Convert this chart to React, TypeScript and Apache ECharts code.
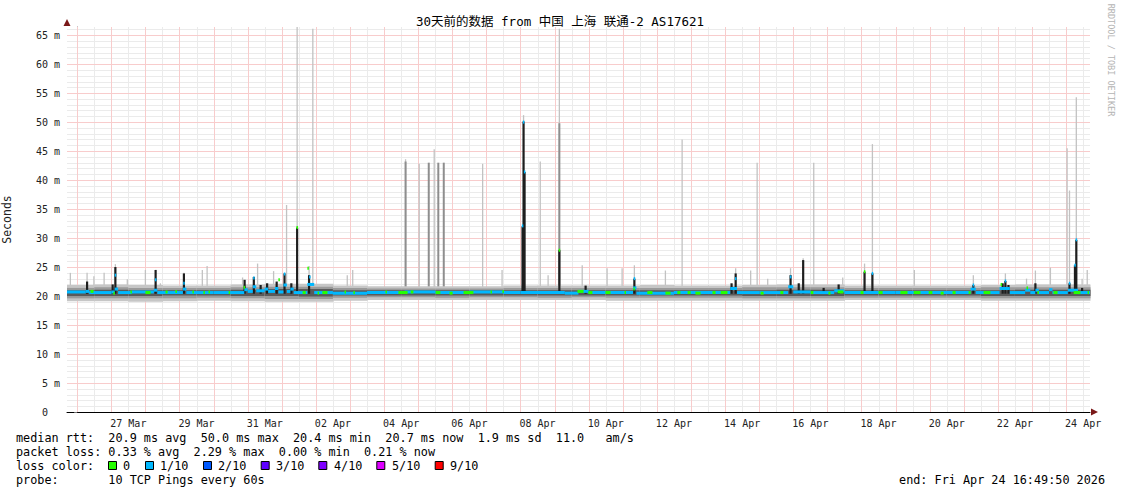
import React, { useEffect, useRef } from 'react';
import * as echarts from 'echarts';

// x unit: days since 26 Mar 00:00 ; window = 25 Mar 16:49:50 .. 24 Apr 16:49:50
const START_DAY = -0.2987;
const END_DAY = 29.7013;
const Y_MAX = 66.4;

const TITLE = '30天前的数据 from 中国 上海 联通-2 AS17621';
const DAY_LABEL_POS = [1.5, 3.5, 5.5, 7.5, 9.5, 11.5, 13.5, 15.5, 17.5, 19.5, 21.5, 23.5, 25.5, 27.5, 29.5];
const DAY_LABELS = ['27 Mar', '29 Mar', '31 Mar', '02 Apr', '04 Apr', '06 Apr', '08 Apr', '10 Apr', '12 Apr', '14 Apr', '16 Apr', '18 Apr', '20 Apr', '22 Apr', '24 Apr'];
const Y_LABEL_VALUES = [0, 5, 10, 15, 20, 25, 30, 35, 40, 45, 50, 55, 60, 65];

const LOSS_COLORS = ['#26ff00', '#00b8ff', '#0059ff', '#5e00ff', '#7e00ff', '#dd00ff', '#ff0000'];
const LOSS_LABELS = ['0', '1/10', '2/10', '3/10', '4/10', '5/10', '9/10'];

const STAT_LINES = [
  'median rtt:  20.9 ms avg  50.0 ms max  20.4 ms min  20.7 ms now  1.9 ms sd  11.0   am/s',
  'packet loss: 0.33 % avg  2.29 % max  0.00 % min  0.21 % now',
  'loss color:',
  'probe:       10 TCP Pings every 60s',
];
const END_TEXT = 'end: Fri Apr 24 16:49:50 2026';

// smoke band: [day, lightLo, midLo, darkLo, darkHi, midHi, lightHi]
const BAND = [
  [-0.2987, 19.1, 19.6, 20.0, 21.0, 21.4, 21.9],
  [0.5, 19.1, 19.6, 20.0, 21.1, 21.5, 22.0],
  [1.5, 19.0, 19.6, 20.0, 21.0, 21.4, 21.9],
  [2.5, 19.1, 19.6, 20.1, 21.0, 21.4, 21.8],
  [3.5, 19.2, 19.7, 20.1, 21.0, 21.4, 21.8],
  [4.5, 19.1, 19.6, 20.0, 21.1, 21.5, 22.0],
  [5.5, 19.0, 19.5, 20.0, 21.2, 21.6, 22.1],
  [6.5, 19.0, 19.5, 19.9, 21.2, 21.6, 22.1],
  [7.5, 19.2, 19.7, 20.1, 21.0, 21.4, 21.8],
  [8.5, 19.3, 19.8, 20.1, 21.0, 21.3, 21.7],
  [9.5, 19.3, 19.8, 20.1, 21.0, 21.3, 21.7],
  [10.5, 19.3, 19.7, 20.1, 21.0, 21.3, 21.7],
  [11.5, 19.3, 19.8, 20.1, 21.0, 21.3, 21.7],
  [12.5, 19.3, 19.8, 20.1, 21.0, 21.4, 21.8],
  [13.5, 19.3, 19.7, 20.1, 21.0, 21.4, 21.8],
  [14.5, 19.3, 19.8, 20.1, 21.0, 21.4, 21.8],
  [15.5, 19.2, 19.7, 20.1, 21.0, 21.4, 21.8],
  [16.5, 19.2, 19.7, 20.1, 21.0, 21.4, 21.9],
  [17.5, 19.2, 19.7, 20.1, 21.0, 21.4, 21.8],
  [18.5, 19.2, 19.7, 20.1, 21.0, 21.4, 21.8],
  [19.5, 19.2, 19.6, 20.0, 21.0, 21.5, 21.9],
  [20.5, 19.2, 19.6, 20.0, 21.1, 21.5, 22.0],
  [21.5, 19.2, 19.6, 20.0, 21.1, 21.5, 22.0],
  [22.5, 19.3, 19.7, 20.1, 21.0, 21.4, 21.8],
  [23.5, 19.3, 19.7, 20.1, 21.0, 21.4, 21.8],
  [24.5, 19.3, 19.7, 20.1, 21.0, 21.4, 21.8],
  [25.5, 19.3, 19.7, 20.1, 21.0, 21.4, 21.8],
  [26.5, 19.2, 19.6, 20.0, 21.0, 21.5, 21.9],
  [27.5, 19.2, 19.6, 20.0, 21.1, 21.5, 22.0],
  [28.5, 19.2, 19.6, 20.0, 21.1, 21.5, 22.0],
  [29.7013, 19.2, 19.6, 20.0, 21.1, 21.5, 22.0],
];

// median steps (loss 1/10 colour): [day, ms]
const MEDIAN_STEPS = [
  [-0.2987, 20.7], [0.25, 20.8], [0.35, 20.6], [1.0, 20.7], [1.1, 21.2], [1.2, 20.6], [1.6, 20.7],
  [2.25, 21.0], [2.35, 20.6], [3.1, 21.2], [3.2, 20.6], [4.0, 20.6], [4.9, 21.1], [5.0, 20.8],
  [5.15, 21.6], [5.25, 20.9], [5.5, 21.2], [5.6, 20.8], [5.8, 21.3], [5.9, 20.7], [6.05, 21.9],
  [6.15, 20.8], [6.25, 21.2], [6.35, 20.6], [6.75, 22.0], [6.95, 20.6], [7.5, 20.5], [8.5, 20.6],
  [9.6, 20.7], [10.5, 20.6], [11.5, 20.7], [12.5, 20.6], [13.0, 20.6], [14.3, 20.5], [14.7, 20.8],
  [15.0, 20.6], [16.3, 21.4], [16.4, 20.5], [17.5, 20.6], [19.15, 21.3], [19.35, 20.6], [20.0, 20.6],
  [20.85, 21.6], [21.0, 20.7], [21.5, 20.6], [22.2, 20.9], [22.5, 20.6], [24.0, 20.6], [26.2, 21.2],
  [26.35, 20.6], [27.05, 21.3], [27.35, 20.6], [27.8, 21.0], [27.95, 20.6], [28.1, 21.0], [28.2, 20.6],
  [28.5, 21.1], [28.6, 20.6], [29.05, 21.0], [29.35, 20.6],
];

// median stretches with no loss: [dayStart, dayEnd, ms]
const GREEN_SEGMENTS = [
  [0.39, 0.48, 20.8], [1.06, 1.09, 20.5], [1.56, 1.60, 20.7], [2.00, 2.15, 20.6], [2.59, 2.65, 20.7],
  [2.88, 2.91, 20.8], [3.38, 3.42, 20.7], [3.70, 3.73, 20.6], [3.85, 3.88, 20.7], [4.44, 4.47, 20.6],
  [4.88, 4.91, 21.5], [5.90, 5.93, 22.8], [6.61, 6.70, 20.6], [7.05, 7.08, 20.5], [7.19, 7.34, 20.6],
  [7.84, 7.87, 20.7], [8.10, 8.13, 20.6], [9.04, 9.08, 20.7], [9.42, 9.69, 20.6], [9.78, 9.86, 20.7],
  [10.51, 10.65, 20.6], [10.92, 11.01, 20.5], [11.33, 11.62, 20.6], [12.12, 12.15, 20.7], [12.47, 12.50, 20.8],
  [14.67, 14.85, 20.8], [14.99, 15.11, 20.6], [15.49, 15.64, 20.6], [16.05, 16.08, 20.6], [16.31, 16.34, 21.2],
  [16.72, 16.87, 20.6], [17.25, 17.40, 20.5], [17.60, 17.69, 20.6], [17.90, 17.99, 20.6], [18.13, 18.28, 20.5],
  [18.63, 18.72, 20.6], [18.87, 19.07, 20.6], [20.04, 20.13, 20.5], [20.62, 20.71, 20.6], [21.51, 21.59, 20.6],
  [22.03, 22.09, 20.5], [22.30, 22.47, 20.7], [22.97, 23.06, 20.6], [23.50, 23.62, 20.6], [24.14, 24.35, 20.6],
  [24.53, 24.73, 20.6], [24.97, 25.08, 20.6], [25.32, 25.41, 20.5], [25.67, 25.76, 20.6], [26.14, 26.20, 20.6],
  [26.58, 26.78, 20.6], [27.08, 27.11, 22.0], [27.84, 27.87, 21.4], [28.16, 28.19, 20.6], [28.63, 28.75, 20.6],
  [29.22, 29.42, 20.6], [29.63, 29.66, 20.6],
];

// median values at the peaks: [day, ms, loss index]
const MEDIAN_PEAKS = [
  [1.12, 23.6, 1], [2.30, 22.8, 1], [3.13, 22.2, 1], [5.18, 23.1, 1], [6.08, 23.8, 1], [6.45, 31.8, 0],
  [6.77, 24.8, 0], [6.82, 23.3, 1], [13.06, 32.1, 1], [13.09, 50.0, 1], [13.12, 41.4, 1], [14.14, 27.9, 0],
  [16.34, 23.0, 1], [19.31, 23.0, 1], [20.92, 23.3, 1], [23.09, 24.2, 0], [23.32, 23.9, 1], [26.28, 21.9, 1],
  [27.22, 22.6, 1], [29.10, 22.2, 1], [29.26, 25.3, 1], [29.30, 29.7, 1],
];

// dense smoke columns: [day, top ms]
const DARK_SPIKES = [
  [0.29, 22.5], [1.04, 22.0], [1.12, 25.0], [2.30, 24.5], [3.13, 23.9], [4.91, 22.8], [5.18, 23.3],
  [5.38, 21.9], [5.57, 22.2], [5.85, 22.5], [6.08, 23.9], [6.28, 22.2], [6.45, 31.8], [6.80, 23.6],
  [13.06, 32.0], [13.09, 50.1], [13.12, 41.4], [14.14, 27.9], [14.91, 21.8], [16.34, 23.0], [19.19, 22.2],
  [19.31, 23.9], [20.92, 23.6], [21.16, 22.2], [21.29, 26.2], [21.89, 21.4], [22.33, 22.0], [23.09, 24.2],
  [23.32, 23.9], [26.28, 21.9], [27.14, 22.2], [27.22, 22.6], [27.31, 21.9], [28.10, 22.2], [29.10, 22.2],
  [29.26, 25.3], [29.30, 29.7], [29.47, 21.4],
];
const MID_SPIKES = [
  [9.63, 43.2], [10.31, 43.0], [10.59, 43.0], [10.75, 43.0], [14.14, 49.8],
];
const LIGHT_SPIKES = [
  [-0.20, 24.0], [0.29, 24.0], [0.49, 23.4], [0.79, 24.0], [1.12, 25.5], [1.47, 22.9], [2.00, 24.5],
  [2.44, 22.2], [3.13, 24.0], [3.67, 24.5], [3.81, 25.2], [4.85, 23.2], [5.29, 25.6], [5.76, 24.3],
  [6.14, 35.7], [6.45, 66.4], [6.80, 25.2], [6.91, 66.1], [7.92, 23.6], [8.08, 24.5], [9.63, 43.6],
  [10.03, 42.8], [10.47, 45.3], [11.89, 42.8], [12.46, 24.5], [13.09, 51.2], [13.58, 43.2], [13.81, 23.6],
  [14.14, 66.1], [14.81, 25.3], [15.54, 24.8], [15.98, 24.8], [16.34, 25.3], [17.25, 24.4], [17.74, 47.0],
  [19.31, 24.8], [19.75, 24.4], [19.94, 43.0], [20.25, 23.0], [20.92, 24.8], [21.29, 26.5], [21.60, 43.0],
  [22.45, 23.2], [23.09, 25.6], [23.32, 46.2], [24.55, 24.5], [26.28, 23.6], [27.22, 23.9], [27.84, 23.0],
  [28.10, 24.4], [28.54, 24.9], [29.03, 45.5], [29.10, 38.2], [29.30, 54.3], [29.47, 23.0], [29.62, 24.5],
];
const SPIKE_BASE = 20.4;

const MONO = '"DejaVu Sans Mono", "Noto Sans CJK SC", monospace';

export default function App() {
  const ref = useRef<HTMLDivElement>(null);

  useEffect(() => {
    if (!ref.current) return;
    const chart = echarts.init(ref.current, undefined, { renderer: 'svg' });

    // grid line positions: [x-day, y-ms]
    const vMinor: number[][] = [];
    const vMajor: number[][] = [];
    for (let d = 0; d <= 29; d++) {
      vMinor.push([d + 0.5, 1]);
      vMajor.push([d, 1]);
    }
    const hMinor: number[][] = [];
    const hMajor: number[][] = [];
    for (let v = 1; v <= 66; v++) {
      if (v % 5 !== 0) hMinor.push([0, v]);
      else hMajor.push([0, v]);
    }

    // grid lines drawn as 1px filled rectangles on pixel boundaries
    const gridSeries = (data: number[][], color: string, vertical: boolean) => ({
      type: 'custom',
      z: 1,
      silent: true,
      data,
      encode: { x: 0, y: 1 },
      renderItem: (params: any, api: any) => {
        const p = api.coord([api.value(0), api.value(1)]);
        const cs = params.coordSys;
        const shape = vertical
          ? { x: Math.round(p[0]), y: cs.y, width: 1, height: cs.height }
          : { x: cs.x, y: Math.round(p[1]), width: cs.width, height: 1 };
        return { type: 'rect', shape, style: { fill: color } };
      },
    });

    const bandData = BAND.slice(0, -1).map((r, i) => [r[0], BAND[i + 1][0], r[1], r[2], r[3], r[4], r[5], r[6]]);

    const medianData: any[] = [];
    MEDIAN_STEPS.forEach((s, i) => {
      const next = i + 1 < MEDIAN_STEPS.length ? MEDIAN_STEPS[i + 1][0] : END_DAY;
      medianData.push([s[0], next, s[1], 1]);
    });
    GREEN_SEGMENTS.forEach((g) => medianData.push([g[0], g[1], g[2], 0]));
    MEDIAN_PEAKS.forEach((p) => medianData.push([p[0] - 0.02, p[0] + 0.02, p[1], p[2]]));

    const spikeSeries = (data: number[][], color: string, width: number, z: number) => ({
      type: 'custom',
      z,
      silent: true,
      data: data.map((s) => [s[0], SPIKE_BASE, s[1]]),
      encode: { x: 0, y: [1, 2] },
      renderItem: (params: any, api: any) => {
        const top = api.coord([api.value(0), api.value(2)]);
        const bot = api.coord([api.value(0), api.value(1)]);
        return {
          type: 'rect',
          shape: { x: top[0] - width / 2, y: top[1], width, height: bot[1] - top[1] },
          style: { fill: color },
        };
      },
    });

    chart.setOption({
      animation: false,
      backgroundColor: '#ffffff',
      grid: { left: 67, right: 31, top: 27, bottom: 82, outerBoundsMode: 'none', containLabel: false },
      xAxis: {
        type: 'value',
        min: START_DAY,
        max: END_DAY,
        axisLine: { show: true, lineStyle: { color: '#000', width: 1 } },
        axisTick: { show: false },
        splitLine: { show: false },
        axisLabel: {
          customValues: DAY_LABEL_POS,
          formatter: (v: number) => {
            const i = DAY_LABEL_POS.findIndex((p) => Math.abs(p - v) < 1e-6);
            return i >= 0 ? DAY_LABELS[i] : '';
          },
          fontFamily: MONO,
          fontSize: 10,
          color: '#222',
          margin: 6,
        },
      },
      yAxis: {
        type: 'value',
        min: 0,
        max: Y_MAX,
        name: 'Seconds',
        nameLocation: 'middle',
        nameGap: 54,
        nameTextStyle: { fontFamily: MONO, fontSize: 11.5, color: '#222' },
        axisLine: { show: true, lineStyle: { color: '#777', width: 1 } },
        axisTick: { show: true, customValues: Y_LABEL_VALUES, length: 3, lineStyle: { color: '#777' } },
        splitLine: { show: false },
        axisLabel: {
          customValues: Y_LABEL_VALUES,
          formatter: (v: number) => (v === 0 ? '{z|0}' : `${v} m`),
          rich: { z: { padding: [0, 12, 0, 0], fontFamily: MONO, fontSize: 10, color: '#222' } },
          fontFamily: MONO,
          fontSize: 10,
          color: '#222',
          margin: 7,
        },
      },
      series: [
        gridSeries(vMinor, '#ebebeb', true),
        gridSeries(hMinor, '#ebebeb', false),
        gridSeries(vMajor, '#f8cccc', true),
        gridSeries(hMajor, '#f8cccc', false),
        spikeSeries(LIGHT_SPIKES, '#c2c2c2', 1.3, 2),
        spikeSeries(MID_SPIKES, '#8e8e8e', 2, 3),
        {
          type: 'custom',
          z: 4,
          silent: true,
          data: bandData,
          encode: { x: [0, 1], y: [2, 7] },
          renderItem: (params: any, api: any) => {
            const d0 = api.value(0);
            const d1 = api.value(1);
            const layers: [number, number, string][] = [
              [2, 7, '#c6c6c6'],
              [3, 6, '#9a9a9a'],
              [4, 5, '#5a5a5a'],
            ];
            return {
              type: 'group',
              children: layers.map(([lo, hi, c]) => {
                const a = api.coord([d0, api.value(hi)]);
                const b = api.coord([d1, api.value(lo)]);
                return {
                  type: 'rect',
                  shape: { x: a[0], y: a[1], width: b[0] - a[0] + 0.5, height: b[1] - a[1] },
                  style: { fill: c },
                };
              }),
            };
          },
        },
        spikeSeries(DARK_SPIKES, '#1e1e1e', 2.2, 5),
        {
          type: 'custom',
          z: 6,
          silent: true,
          data: medianData,
          encode: { x: [0, 1], y: 2 },
          renderItem: (params: any, api: any) => {
            const a = api.coord([api.value(0), api.value(2)]);
            const b = api.coord([api.value(1), api.value(2)]);
            const w = Math.max(1.5, b[0] - a[0]);
            return {
              type: 'rect',
              shape: { x: a[0], y: a[1] - 1.5, width: w, height: 3 },
              style: { fill: LOSS_COLORS[api.value(3)] },
            };
          },
        },
      ],
      graphic: [
        {
          type: 'text', x: 560, y: 21, z: 100,
          style: { text: TITLE, fontFamily: MONO, fontSize: 12.5, fill: '#000', align: 'center', verticalAlign: 'middle' },
        },
        { type: 'polygon', shape: { points: [[63.5, 26], [70.5, 26], [67, 19]] }, style: { fill: '#7a1818' }, z: 100 },
        { type: 'polygon', shape: { points: [[1091, 408.5], [1091, 415.5], [1098, 412]] }, style: { fill: '#7a1818' }, z: 100 },
        {
          type: 'text', x: 1111, y: 60, rotation: -Math.PI / 2, z: 100,
          style: { text: 'RRDTOOL / TOBI OETIKER', fontFamily: MONO, fontSize: 8.5, fill: '#b4b4b4', align: 'center', verticalAlign: 'middle' },
        },
        ...STAT_LINES.map((t, i) => ({
          type: 'text', x: 16, y: 438 + i * 14, z: 100,
          style: { text: t, fontFamily: MONO, fontSize: 11.8, fill: '#000', align: 'left', verticalAlign: 'middle' },
        })),
        {
          type: 'text', x: 1105, y: 480, z: 100,
          style: { text: END_TEXT, fontFamily: MONO, fontSize: 11.8, fill: '#000', align: 'right', verticalAlign: 'middle' },
        },
        ...LOSS_COLORS.map((c, i) => ({
          type: 'rect', z: 100,
          shape: { x: [109, 146, 204, 261.7, 319.3, 377.3, 435.7][i] - 0.5, y: 461.5, width: 8, height: 8 },
          style: { fill: c, stroke: '#000', lineWidth: 1 },
        })),
        ...LOSS_LABELS.map((t, i) => ({
          type: 'text', z: 100,
          x: [123, 160, 218, 276, 334, 392, 450][i], y: 466,
          style: { text: t, fontFamily: MONO, fontSize: 11.8, fill: '#000', align: 'left', verticalAlign: 'middle' },
        })),
      ],
    });

    return () => chart.dispose();
  }, []);

  return <div ref={ref} style={{ position: 'absolute', left: 0, top: 0, width: 1121, height: 494 }} />;
}
